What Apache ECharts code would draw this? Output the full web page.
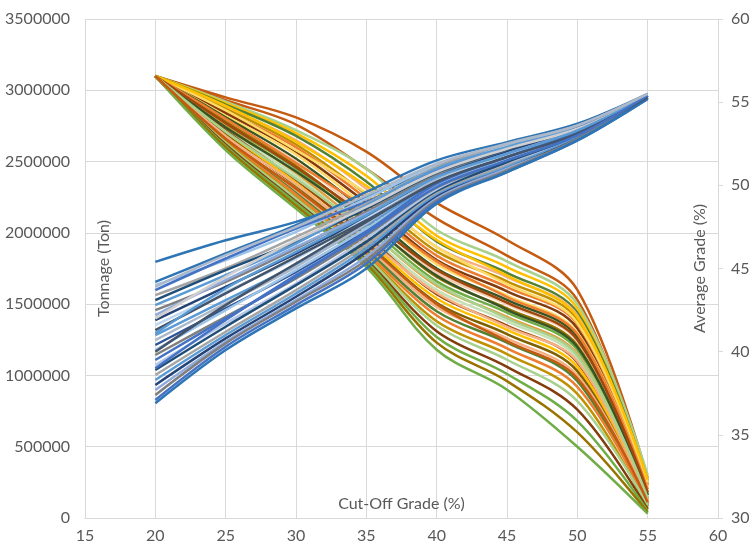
<!DOCTYPE html>
<html>
<head>
<meta charset="utf-8">
<script src="https://cdn.jsdelivr.net/npm/echarts@6/dist/echarts.min.js"></script>
<style>
  html, body { margin: 0; padding: 0; background: #fff; }
  #chart { width: 756px; height: 552px; }
</style>
</head>
<body>
<div id="chart"></div>
<script>
// Cut-off grades (%) at which each simulated grade-tonnage curve is evaluated
const cutOffGrades = [20, 25, 30, 35, 40, 45, 50, 55];

// Tonnage (t) above cut-off, one row per simulation
const tonnageRuns = [
  [3100000, 2950000, 2810000, 2570000, 2210000, 1950000, 1600000, 280000],
  [3100000, 2930000, 2760000, 2450000, 2100000, 1840000, 1530000, 240000],
  [3100000, 2920000, 2720000, 2450000, 2020000, 1800000, 1500000, 300000],
  [3100000, 2910000, 2700000, 2400000, 1980000, 1760000, 1470000, 220000],
  [3100000, 2900000, 2680000, 2360000, 1940000, 1720000, 1440000, 260000],
  [3100000, 2880000, 2650000, 2310000, 1900000, 1690000, 1420000, 200000],
  [3100000, 2870000, 2620000, 2270000, 1870000, 1660000, 1390000, 180000],
  [3100000, 2850000, 2600000, 2240000, 1840000, 1620000, 1360000, 230000],
  [3100000, 2840000, 2570000, 2210000, 1810000, 1590000, 1330000, 160000],
  [3100000, 2820000, 2550000, 2180000, 1780000, 1560000, 1300000, 210000],
  [3100000, 2810000, 2520000, 2150000, 1750000, 1530000, 1270000, 140000],
  [3100000, 2790000, 2500000, 2120000, 1720000, 1500000, 1240000, 190000],
  [3100000, 2780000, 2470000, 2090000, 1690000, 1470000, 1210000, 120000],
  [3100000, 2760000, 2450000, 2060000, 1660000, 1440000, 1180000, 170000],
  [3100000, 2750000, 2420000, 2030000, 1630000, 1410000, 1150000, 110000],
  [3100000, 2730000, 2400000, 2000000, 1600000, 1380000, 1120000, 150000],
  [3100000, 2720000, 2370000, 1980000, 1570000, 1350000, 1090000, 100000],
  [3100000, 2700000, 2350000, 1950000, 1540000, 1320000, 1060000, 130000],
  [3100000, 2690000, 2330000, 1930000, 1510000, 1290000, 1030000, 90000],
  [3100000, 2670000, 2300000, 1900000, 1480000, 1260000, 1000000, 120000],
  [3100000, 2660000, 2280000, 1880000, 1450000, 1230000, 960000, 80000],
  [3100000, 2650000, 2270000, 1860000, 1420000, 1190000, 920000, 100000],
  [3100000, 2640000, 2250000, 1840000, 1380000, 1150000, 870000, 70000],
  [3100000, 2630000, 2240000, 1830000, 1350000, 1110000, 820000, 90000],
  [3100000, 2620000, 2220000, 1810000, 1310000, 1060000, 760000, 60000],
  [3100000, 2610000, 2210000, 1800000, 1270000, 1010000, 680000, 50000],
  [3100000, 2600000, 2190000, 1780000, 1230000, 960000, 600000, 40000],
  [3100000, 2580000, 2170000, 1760000, 1180000, 900000, 500000, 30000],
  [3100000, 2860000, 2580000, 2280000, 1900000, 1640000, 1370000, 250000],
  [3100000, 2800000, 2490000, 2170000, 1800000, 1550000, 1290000, 200000],
  [3100000, 2740000, 2430000, 2080000, 1700000, 1460000, 1200000, 160000],
  [3100000, 2680000, 2340000, 1960000, 1580000, 1340000, 1100000, 130000],
  [3100000, 2890000, 2640000, 2330000, 1950000, 1700000, 1410000, 270000],
  [3100000, 2770000, 2460000, 2110000, 1740000, 1510000, 1250000, 180000],
  [3100000, 2710000, 2380000, 2020000, 1640000, 1400000, 1140000, 140000],
  [3100000, 2660000, 2310000, 1920000, 1500000, 1240000, 980000, 110000]
];

// Average grade (%) above cut-off, one row per simulation
const gradeRuns = [
  [45.4, 46.7, 47.8, 49.3, 51.0, 52.3, 53.4, 55.4],
  [44.2, 45.9, 47.6, 49.6, 51.5, 52.6, 53.7, 55.5],
  [44.0, 45.5, 47.2, 49.2, 51.2, 52.4, 53.5, 55.4],
  [43.7, 45.6, 47.4, 49.0, 50.9, 52.2, 53.4, 55.4],
  [43.4, 45.0, 46.9, 48.9, 51.1, 52.5, 53.6, 55.5],
  [43.1, 44.9, 46.6, 48.6, 50.7, 52.1, 53.3, 55.3],
  [42.8, 44.6, 46.5, 48.8, 51.0, 52.3, 53.5, 55.4],
  [42.5, 44.2, 46.2, 48.4, 50.6, 52.0, 53.3, 55.4],
  [42.2, 44.3, 46.3, 48.3, 50.4, 51.9, 53.2, 55.3],
  [41.9, 43.9, 45.9, 48.1, 50.5, 52.0, 53.4, 55.4],
  [41.6, 43.6, 45.6, 48.0, 50.3, 51.8, 53.1, 55.3],
  [41.3, 43.5, 45.7, 47.9, 50.2, 51.7, 53.2, 55.4],
  [41.0, 43.1, 45.2, 47.6, 50.1, 51.6, 53.0, 55.3],
  [40.7, 42.9, 45.1, 47.7, 50.4, 51.9, 53.3, 55.4],
  [40.4, 42.6, 44.8, 47.3, 49.9, 51.5, 53.0, 55.3],
  [40.1, 42.5, 44.9, 47.4, 50.0, 51.6, 53.1, 55.4],
  [39.8, 42.1, 44.4, 47.0, 49.8, 51.4, 52.9, 55.3],
  [39.5, 42.0, 44.5, 47.2, 50.1, 51.7, 53.2, 55.4],
  [39.2, 41.7, 44.1, 46.8, 49.7, 51.3, 52.9, 55.3],
  [38.9, 41.5, 44.0, 46.6, 49.6, 51.4, 53.0, 55.4],
  [38.6, 41.2, 43.7, 46.4, 49.5, 51.2, 52.8, 55.3],
  [38.3, 41.0, 43.5, 46.2, 49.4, 51.1, 52.9, 55.4],
  [38.0, 40.8, 43.3, 46.0, 49.3, 51.0, 52.8, 55.3],
  [37.7, 40.6, 43.1, 45.7, 49.2, 51.0, 52.7, 55.3],
  [37.4, 40.5, 43.0, 45.5, 49.1, 50.9, 52.8, 55.3],
  [37.1, 40.3, 42.8, 45.3, 49.0, 50.8, 52.7, 55.2],
  [36.9, 40.1, 42.6, 45.0, 48.9, 50.8, 52.7, 55.2],
  [42.0, 44.5, 46.7, 48.7, 50.8, 52.2, 53.4, 55.4],
  [41.1, 43.8, 46.0, 48.2, 50.5, 51.9, 53.3, 55.4],
  [40.0, 42.8, 45.3, 47.8, 50.2, 51.7, 53.1, 55.3],
  [39.0, 41.9, 44.6, 47.1, 49.9, 51.5, 53.0, 55.4],
  [43.9, 45.8, 47.5, 49.4, 51.3, 52.5, 53.6, 55.5]
];

// Axis tick settings
const xTicks = { min: 15, max: 60, step: 5 };
const tonnageTicks = { min: 0, max: 3500000, step: 500000 };
const gradeTicks = { min: 30, max: 60, step: 5 };

// Warm palette for tonnage curves, cool palette for grade curves
const tonnageColors = ['#C55A11', '#C55A11', '#A9D18E', '#FFC000', '#548235', '#F4B183',
  '#BF9000', '#ED7D31', '#843C0C', '#FFD966', '#375623', '#F8CBAD', '#997300', '#70AD47',
  '#E2A03F', '#C5E0B4', '#9E480E', '#FFC000', '#7F6000', '#F4B183', '#548235', '#ED7D31',
  '#BF9000', '#A9D18E', '#843C0C', '#70AD47', '#997300', '#70AD47', '#FFD966', '#ED7D31',
  '#375623', '#F4B183', '#FFC000', '#9E480E', '#A9D18E', '#C55A11'];
const gradeColors = ['#2E75B6', '#2E75B6', '#9DC3E6', '#4472C4', '#A5A5A5', '#1F4E79',
  '#5B9BD5', '#7F7F7F', '#8FAADC', '#264478', '#BDD7EE', '#44546A', '#5B9BD5', '#ADB9CA',
  '#2F5597', '#9DC3E6', '#7F7F7F', '#4472C4', '#B4C7E7', '#1F4E79', '#A5A5A5', '#5B9BD5',
  '#264478', '#8FAADC', '#7F7F7F', '#4472C4', '#2E75B6', '#D0CECE', '#5B9BD5', '#44546A',
  '#4472C4', '#ADB9CA'];

const textColor = '#595959';
const gridColor = '#D9D9D9';
const fontFamily = 'Lato, "Open Sans", sans-serif';
const fontSize = 16;

function toPairs(row) {
  return row.map((v, i) => [cutOffGrades[i], v]);
}

function curve(name, row, axis, color) {
  return {
    name,
    type: 'line',
    yAxisIndex: axis,
    data: toPairs(row),
    smooth: 0.35,
    showSymbol: false,
    symbol: 'none',
    silent: true,
    lineStyle: { width: 2.5, color }
  };
}

const series = [];
tonnageRuns.forEach((row, i) => {
  series.push(curve('Tonnage ' + (i + 1), row, 0, tonnageColors[i % tonnageColors.length]));
});
gradeRuns.forEach((row, i) => {
  series.push(curve('Grade ' + (i + 1), row, 1, gradeColors[i % gradeColors.length]));
});

const plainNumber = (v) => String(v);

const chart = echarts.init(document.getElementById('chart'), null, { renderer: 'canvas' });
chart.setOption({
  animation: false,
  backgroundColor: '#ffffff',
  grid: { left: 85, right: 38, top: 19, bottom: 34, containLabel: false, outerBoundsMode: 'none' },
  xAxis: {
    type: 'value',
    min: xTicks.min, max: xTicks.max, interval: xTicks.step,
    name: 'Cut-Off Grade (%)',
    nameLocation: 'middle',
    nameGap: -22,
    nameMoveOverlap: false,
    nameTextStyle: { color: textColor, fontSize, fontFamily },
    axisLine: { show: true, lineStyle: { color: gridColor, width: 1 } },
    axisTick: { show: false },
    axisLabel: { color: textColor, fontSize, fontFamily, margin: 10, formatter: plainNumber },
    splitLine: { show: true, lineStyle: { color: gridColor, width: 1 } }
  },
  yAxis: [
    {
      type: 'value',
      position: 'left',
      min: tonnageTicks.min, max: tonnageTicks.max, interval: tonnageTicks.step,
      name: 'Tonnage (Ton)',
      nameLocation: 'middle',
      nameGap: -27,
      nameMoveOverlap: false,
      nameTextStyle: { color: textColor, fontSize, fontFamily },
      axisLine: { show: false },
      axisTick: { show: false },
      axisLabel: { color: textColor, fontSize, fontFamily, margin: 15, formatter: plainNumber },
      splitLine: { show: true, lineStyle: { color: gridColor, width: 1 } }
    },
    {
      type: 'value',
      position: 'right',
      min: gradeTicks.min, max: gradeTicks.max, interval: gradeTicks.step,
      name: 'Average Grade (%)',
      nameLocation: 'middle',
      nameGap: -26,
      nameMoveOverlap: false,
      nameTextStyle: { color: textColor, fontSize, fontFamily },
      axisLine: { show: true, lineStyle: { color: gridColor, width: 1 } },
      axisTick: { show: true, length: 5, lineStyle: { color: gridColor } },
      axisLabel: { color: textColor, fontSize, fontFamily, margin: 13, formatter: plainNumber },
      splitLine: { show: false }
    }
  ],
  series
});
</script>
</body>
</html>
